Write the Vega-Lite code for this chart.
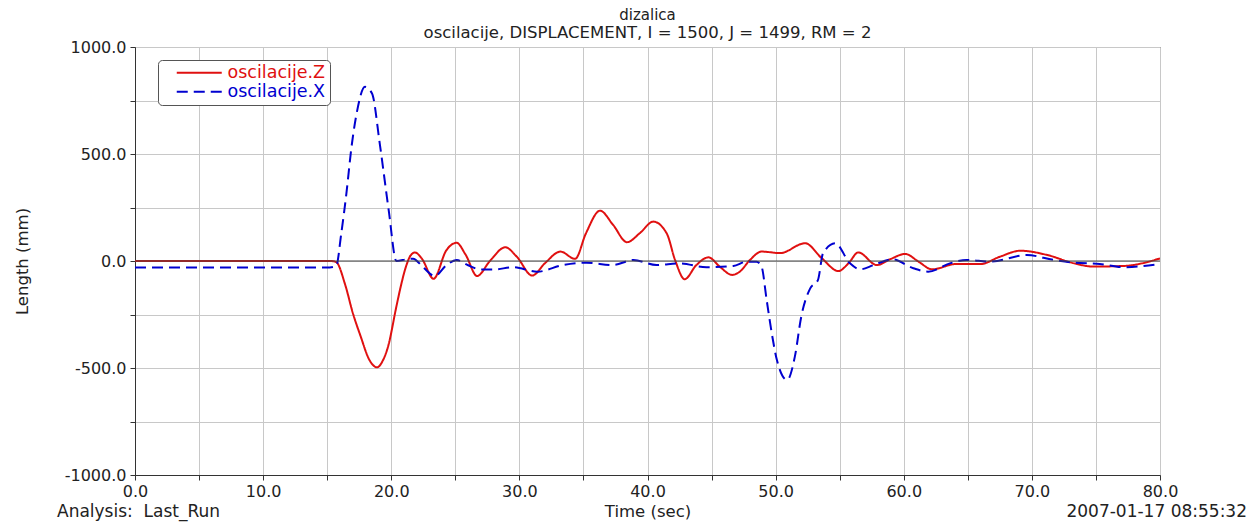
{
  "$schema": "https://vega.github.io/schema/vega-lite/v6.json",
  "width": 1025,
  "height": 428,
  "autosize": {"type": "none"},
  "padding": {"left": 135, "top": 47, "right": 98, "bottom": 48},
  "background": "white",
  "title": {
    "text": "dizalica",
    "subtitle": "oscilacije, DISPLACEMENT, I = 1500, J = 1499, RM = 2",
    "anchor": "middle",
    "font": "DejaVu Sans",
    "fontSize": 15,
    "fontWeight": "normal",
    "color": "#222",
    "subtitleFont": "DejaVu Sans",
    "subtitleFontSize": 16.5,
    "subtitleColor": "#222",
    "offset": 5,
    "dy": 7,
    "subtitlePadding": 2
  },
  "config": {
    "view": {"stroke": "#333", "strokeWidth": 1},
    "axis": {
      "labelFont": "DejaVu Sans",
      "labelFontSize": 16,
      "labelColor": "#222",
      "titleFont": "DejaVu Sans",
      "titleFontSize": 16.5,
      "titleFontWeight": "normal",
      "titleColor": "#222",
      "gridColor": "#c8c8c8",
      "gridOpacity": 1,
      "tickColor": "#333",
      "domainColor": "#333",
      "tickSize": 5,
      "labelPadding": 4
    }
  },
  "layer": [
    {
      "data": {
        "values": [
          {"t": 0, "v": 0, "series": "oscilacije.Z"},
          {"t": 15.3, "v": 0, "series": "oscilacije.Z"},
          {"t": 15.7, "v": -5, "series": "oscilacije.Z"},
          {"t": 16.4, "v": -110, "series": "oscilacije.Z"},
          {"t": 17.0, "v": -243, "series": "oscilacije.Z"},
          {"t": 17.6, "v": -350, "series": "oscilacije.Z"},
          {"t": 18.3, "v": -463, "series": "oscilacije.Z"},
          {"t": 18.9, "v": -497, "series": "oscilacije.Z"},
          {"t": 19.3, "v": -470, "series": "oscilacije.Z"},
          {"t": 19.75, "v": -400, "series": "oscilacije.Z"},
          {"t": 20.4, "v": -213, "series": "oscilacije.Z"},
          {"t": 20.7, "v": -130, "series": "oscilacije.Z"},
          {"t": 21.15, "v": -26, "series": "oscilacije.Z"},
          {"t": 21.5, "v": 25, "series": "oscilacije.Z"},
          {"t": 21.85, "v": 40, "series": "oscilacije.Z"},
          {"t": 22.4, "v": 10, "series": "oscilacije.Z"},
          {"t": 23.3, "v": -83, "series": "oscilacije.Z"},
          {"t": 24.3, "v": 50, "series": "oscilacije.Z"},
          {"t": 25.1, "v": 85, "series": "oscilacije.Z"},
          {"t": 25.8, "v": 30, "series": "oscilacije.Z"},
          {"t": 26.7, "v": -70, "series": "oscilacije.Z"},
          {"t": 27.7, "v": 0, "series": "oscilacije.Z"},
          {"t": 28.9, "v": 64, "series": "oscilacije.Z"},
          {"t": 29.8, "v": 20, "series": "oscilacije.Z"},
          {"t": 31.0, "v": -68, "series": "oscilacije.Z"},
          {"t": 32.0, "v": -10, "series": "oscilacije.Z"},
          {"t": 33.2, "v": 44, "series": "oscilacije.Z"},
          {"t": 34.35, "v": 10, "series": "oscilacije.Z"},
          {"t": 35.2, "v": 130, "series": "oscilacije.Z"},
          {"t": 36.3, "v": 235, "series": "oscilacije.Z"},
          {"t": 37.3, "v": 170, "series": "oscilacije.Z"},
          {"t": 38.4, "v": 88, "series": "oscilacije.Z"},
          {"t": 39.4, "v": 130, "series": "oscilacije.Z"},
          {"t": 40.45, "v": 184, "series": "oscilacije.Z"},
          {"t": 41.5, "v": 129, "series": "oscilacije.Z"},
          {"t": 42.15, "v": 5, "series": "oscilacije.Z"},
          {"t": 42.9, "v": -85, "series": "oscilacije.Z"},
          {"t": 43.8, "v": -20, "series": "oscilacije.Z"},
          {"t": 44.75, "v": 17, "series": "oscilacije.Z"},
          {"t": 45.7, "v": -30, "series": "oscilacije.Z"},
          {"t": 46.6, "v": -65, "series": "oscilacije.Z"},
          {"t": 47.2, "v": -50, "series": "oscilacije.Z"},
          {"t": 48.0, "v": 5, "series": "oscilacije.Z"},
          {"t": 48.9, "v": 44, "series": "oscilacije.Z"},
          {"t": 50.35, "v": 37, "series": "oscilacije.Z"},
          {"t": 52.3, "v": 83, "series": "oscilacije.Z"},
          {"t": 53.6, "v": 13, "series": "oscilacije.Z"},
          {"t": 54.9, "v": -47, "series": "oscilacije.Z"},
          {"t": 55.7, "v": -10, "series": "oscilacije.Z"},
          {"t": 56.45, "v": 40, "series": "oscilacije.Z"},
          {"t": 57.9, "v": -19, "series": "oscilacije.Z"},
          {"t": 59.0, "v": 10, "series": "oscilacije.Z"},
          {"t": 60.1, "v": 33, "series": "oscilacije.Z"},
          {"t": 61.2, "v": -5, "series": "oscilacije.Z"},
          {"t": 62.2, "v": -39, "series": "oscilacije.Z"},
          {"t": 64.1, "v": -14, "series": "oscilacije.Z"},
          {"t": 66.0, "v": -14, "series": "oscilacije.Z"},
          {"t": 67.5, "v": 20, "series": "oscilacije.Z"},
          {"t": 69.1, "v": 48, "series": "oscilacije.Z"},
          {"t": 71.2, "v": 28, "series": "oscilacije.Z"},
          {"t": 73.3, "v": -11, "series": "oscilacije.Z"},
          {"t": 74.8, "v": -26, "series": "oscilacije.Z"},
          {"t": 77.2, "v": -23, "series": "oscilacije.Z"},
          {"t": 80, "v": 12, "series": "oscilacije.Z"},
          {"t": 0, "v": -30, "series": "oscilacije.X"},
          {"t": 15.2, "v": -30, "series": "oscilacije.X"},
          {"t": 15.7, "v": -24, "series": "oscilacije.X"},
          {"t": 16.1, "v": 129, "series": "oscilacije.X"},
          {"t": 16.5, "v": 316, "series": "oscilacije.X"},
          {"t": 16.9, "v": 534, "series": "oscilacije.X"},
          {"t": 17.3, "v": 690, "series": "oscilacije.X"},
          {"t": 17.95, "v": 814, "series": "oscilacije.X"},
          {"t": 18.5, "v": 783, "series": "oscilacije.X"},
          {"t": 19.1, "v": 550, "series": "oscilacije.X"},
          {"t": 19.8, "v": 238, "series": "oscilacije.X"},
          {"t": 20.4, "v": 0, "series": "oscilacije.X"},
          {"t": 21.2, "v": 8, "series": "oscilacije.X"},
          {"t": 21.7, "v": 11, "series": "oscilacije.X"},
          {"t": 22.5, "v": -30, "series": "oscilacije.X"},
          {"t": 23.4, "v": -70, "series": "oscilacije.X"},
          {"t": 24.3, "v": -20, "series": "oscilacije.X"},
          {"t": 25.1, "v": 5, "series": "oscilacije.X"},
          {"t": 26.0, "v": -20, "series": "oscilacije.X"},
          {"t": 26.9, "v": -39, "series": "oscilacije.X"},
          {"t": 28.0, "v": -40, "series": "oscilacije.X"},
          {"t": 29.5, "v": -29, "series": "oscilacije.X"},
          {"t": 31.4, "v": -50, "series": "oscilacije.X"},
          {"t": 33.4, "v": -19, "series": "oscilacije.X"},
          {"t": 35.25, "v": -8, "series": "oscilacije.X"},
          {"t": 37.3, "v": -19, "series": "oscilacije.X"},
          {"t": 38.9, "v": 5, "series": "oscilacije.X"},
          {"t": 40.7, "v": -19, "series": "oscilacije.X"},
          {"t": 42.5, "v": -11, "series": "oscilacije.X"},
          {"t": 44.6, "v": -29, "series": "oscilacije.X"},
          {"t": 46.7, "v": -23, "series": "oscilacije.X"},
          {"t": 47.75, "v": -3, "series": "oscilacije.X"},
          {"t": 48.5, "v": -3, "series": "oscilacije.X"},
          {"t": 48.9, "v": -26, "series": "oscilacije.X"},
          {"t": 49.3, "v": -182, "series": "oscilacije.X"},
          {"t": 49.7, "v": -338, "series": "oscilacije.X"},
          {"t": 50.1, "v": -463, "series": "oscilacije.X"},
          {"t": 50.9, "v": -556, "series": "oscilacije.X"},
          {"t": 51.5, "v": -447, "series": "oscilacije.X"},
          {"t": 52.0, "v": -260, "series": "oscilacije.X"},
          {"t": 52.7, "v": -128, "series": "oscilacije.X"},
          {"t": 53.3, "v": -89, "series": "oscilacije.X"},
          {"t": 53.7, "v": 36, "series": "oscilacije.X"},
          {"t": 54.65, "v": 83, "series": "oscilacije.X"},
          {"t": 55.8, "v": -11, "series": "oscilacije.X"},
          {"t": 56.6, "v": -39, "series": "oscilacije.X"},
          {"t": 57.65, "v": -19, "series": "oscilacije.X"},
          {"t": 59.1, "v": 8, "series": "oscilacije.X"},
          {"t": 60.75, "v": -34, "series": "oscilacije.X"},
          {"t": 61.9, "v": -50, "series": "oscilacije.X"},
          {"t": 63.6, "v": -11, "series": "oscilacije.X"},
          {"t": 64.9, "v": 5, "series": "oscilacije.X"},
          {"t": 66.75, "v": -3, "series": "oscilacije.X"},
          {"t": 69.6, "v": 28, "series": "oscilacije.X"},
          {"t": 71.7, "v": 5, "series": "oscilacije.X"},
          {"t": 73.3, "v": -8, "series": "oscilacije.X"},
          {"t": 75.3, "v": -14, "series": "oscilacije.X"},
          {"t": 77.2, "v": -29, "series": "oscilacije.X"},
          {"t": 80, "v": -14, "series": "oscilacije.X"}
        ]
      },
      "mark": {"type": "line", "interpolate": "monotone", "strokeWidth": 2, "clip": true},
      "encoding": {
        "x": {
          "field": "t",
          "type": "quantitative",
          "scale": {"domain": [0, 80], "nice": false, "zero": false},
          "axis": {
            "values": [0, 5, 10, 15, 20, 25, 30, 35, 40, 45, 50, 55, 60, 65, 70, 75, 80],
            "labelExpr": "datum.value % 10 === 0 ? format(datum.value, '.1f') : ''",
            "title": "Time (sec)",
            "titlePadding": 4,
            "labelPadding": 3,
            "labelFlush": false,
            "labelOverlap": false
          }
        },
        "y": {
          "field": "v",
          "type": "quantitative",
          "scale": {"domain": [-1000, 1000], "nice": false},
          "axis": {
            "values": [-1000, -750, -500, -250, 0, 250, 500, 750, 1000],
            "labelExpr": "datum.value % 500 === 0 ? (datum.value < 0 ? '-' + format(-datum.value, '.1f') : format(datum.value, '.1f')) : ''",
            "title": "Length (mm)",
            "titlePadding": 34,
            "labelFlush": false,
            "labelOverlap": false
          }
        },
        "color": {
          "field": "series",
          "type": "nominal",
          "scale": {"domain": ["oscilacije.Z", "oscilacije.X"], "range": ["#e01010", "#0000d0"]},
          "legend": {
            "title": null,
            "orient": "none",
            "legendX": 23,
            "legendY": 13,
            "symbolType": "M-1,0H8",
            "symbolSize": 100,
            "symbolOffset": 11,
            "symbolStrokeWidth": 2,
            "labelFont": "DejaVu Sans",
            "labelFontSize": 17.5,
            "labelOffset": 37,
            "strokeColor": "#555",
            "cornerRadius": 4,
            "padding": 4,
            "fillColor": "white",
            "rowPadding": 0,
            "encode": {
              "labels": {"update": {"fill": {"signal": "datum.value === 'oscilacije.Z' ? '#e01010' : '#0000d0'"}}}
            }
          }
        },
        "strokeDash": {
          "field": "series",
          "type": "nominal",
          "scale": {"domain": ["oscilacije.Z", "oscilacije.X"], "range": [[1, 0], [11, 6]]},
          "legend": {
            "title": null,
            "orient": "none",
            "legendX": 23,
            "legendY": 13,
            "symbolType": "M-1,0H8",
            "symbolSize": 100,
            "symbolOffset": 11,
            "symbolStrokeWidth": 2,
            "labelFont": "DejaVu Sans",
            "labelFontSize": 17.5,
            "labelOffset": 37,
            "strokeColor": "#555",
            "cornerRadius": 4,
            "padding": 4,
            "fillColor": "white",
            "rowPadding": 0,
            "encode": {
              "labels": {"update": {"fill": {"signal": "datum.value === 'oscilacije.Z' ? '#e01010' : '#0000d0'"}}}
            }
          }
        }
      }
    },
    {
      "data": {"values": [{"zero": 0}]},
      "mark": {"type": "rule", "color": "#444", "strokeWidth": 1},
      "encoding": {"y": {"field": "zero", "type": "quantitative"}}
    },
    {
      "data": {"values": [{"t": 0, "v": -1000, "label": "Analysis:\u00a0 Last_Run"}]},
      "mark": {"type": "text", "align": "left", "baseline": "middle", "dx": -78, "dy": 37, "font": "DejaVu Sans", "fontSize": 17, "color": "#222"},
      "encoding": {
        "x": {"field": "t", "type": "quantitative"},
        "y": {"field": "v", "type": "quantitative"},
        "text": {"field": "label"}
      }
    },
    {
      "data": {"values": [{"t": 80, "v": -1000, "label": "2007-01-17 08:55:32"}]},
      "mark": {"type": "text", "align": "right", "baseline": "middle", "dx": 87, "dy": 37, "font": "DejaVu Sans", "fontSize": 17, "color": "#222"},
      "encoding": {
        "x": {"field": "t", "type": "quantitative"},
        "y": {"field": "v", "type": "quantitative"},
        "text": {"field": "label"}
      }
    }
  ]
}
